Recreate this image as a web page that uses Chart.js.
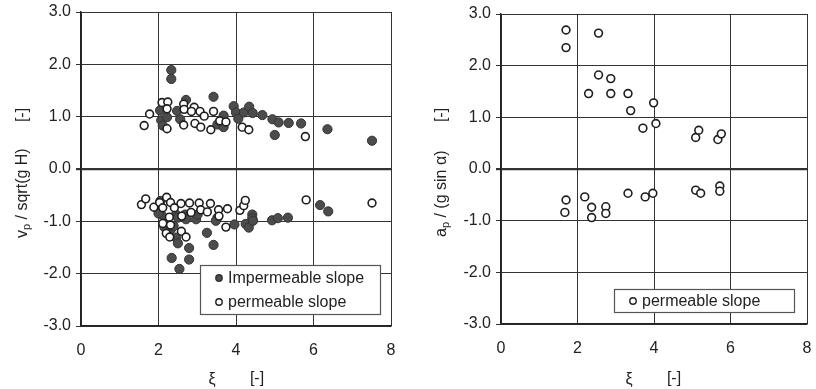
<!DOCTYPE html>
<html>
<head>
<meta charset="utf-8">
<script src="https://cdn.jsdelivr.net/npm/chart.js@4/dist/chart.umd.min.js"></script>
<style>
  html, body { margin: 0; padding: 0; background: #fff; }
  .panel { position: absolute; top: 0; width: 408px; height: 389px; }
</style>
</head>
<body>
<div class="panel" style="left:0"><canvas id="velChart" width="408" height="389"></canvas></div>
<div class="panel" style="left:408px"><canvas id="accChart" width="408" height="389"></canvas></div>
<script>
// ticks
const xTicks = [0, 2, 4, 6, 8];
const yTicks = [-3, -2, -1, 0, 1, 2, 3];

// left panel: impermeable slope (filled)
const impXi = [2.33, 2.33, 2.04, 2.07, 2.11, 2.22, 2.48, 2.71, 2.56, 3.42, 3.68, 3.52, 3.68, 3.94, 4.0, 4.06, 4.2, 4.34, 4.43, 4.68, 4.94, 5.1, 5.36, 5.68, 5.0, 6.36, 7.51,
               2.05, 2.07, 2.0, 2.2, 2.24, 2.15, 2.32, 2.39, 2.45, 2.5, 2.45, 2.5, 2.34, 2.54, 2.79, 2.79, 2.69, 2.71, 2.97, 3.01, 3.25, 3.42, 3.52, 3.48, 3.96, 4.25, 4.33, 4.42, 4.42, 4.44, 4.93, 5.08, 5.34, 6.17, 6.38];
const impV = [1.89, 1.72, 1.12, 0.93, 0.83, 0.99, 1.11, 1.32, 0.95, 1.38, 1.02, 0.85, 0.80, 1.20, 1.08, 0.96, 1.08, 1.19, 1.07, 1.03, 0.95, 0.89, 0.88, 0.87, 0.65, 0.76, 0.54,
              -0.61, -0.87, -0.85, -1.03, -1.12, -1.11, -1.15, -1.09, -0.87, -0.93, -1.31, -1.42, -1.70, -1.91, -1.51, -1.73, -0.87, -0.96, -0.96, -0.87, -1.22, -1.45, -0.93, -0.99, -1.06, -1.05, -1.12, -0.87, -0.94, -0.99, -0.98, -0.94, -0.93, -0.69, -0.81];

// left panel: permeable slope (open)
const permXi = [1.63, 1.77, 2.09, 2.24, 2.22, 2.22, 2.65, 2.66, 2.65, 2.92, 2.85, 3.07, 3.18, 2.94, 3.09, 3.35, 3.42, 3.58, 3.74, 4.16, 4.33, 5.79,
                1.56, 1.67, 1.88, 2.03, 2.11, 2.21, 2.31, 2.11, 2.28, 2.31, 2.2, 2.29, 2.41, 2.58, 2.6, 2.59, 2.71, 2.8, 2.84, 3.05, 3.09, 3.26, 3.34, 3.55, 3.56, 3.78, 3.74, 4.1, 4.2, 4.24, 5.81, 7.51];
const permV = [0.83, 1.05, 1.27, 1.28, 1.15, 0.77, 1.24, 1.14, 0.84, 1.18, 1.10, 1.10, 1.01, 0.87, 0.80, 0.75, 1.10, 0.92, 0.90, 0.80, 0.75, 0.62,
               -0.68, -0.57, -0.73, -0.64, -0.74, -0.54, -0.64, -1.04, -0.92, -1.07, -1.23, -1.30, -0.74, -0.66, -0.90, -1.19, -1.30, -0.65, -0.83, -0.65, -0.78, -0.82, -0.66, -0.78, -0.90, -0.76, -1.11, -0.79, -0.70, -0.60, -0.59, -0.65];

// right panel: permeable slope acceleration
const accXi = [1.70, 1.70, 2.55, 2.55, 2.87, 2.29, 2.87, 3.32, 3.39, 3.99, 3.71, 4.05, 5.09, 5.17, 5.67, 5.76,
               1.70, 1.67, 2.19, 2.37, 2.37, 2.74, 2.74, 3.32, 3.77, 3.97, 5.09, 5.22, 5.72, 5.72];
const accA = [2.69, 2.35, 2.63, 1.82, 1.75, 1.46, 1.46, 1.46, 1.13, 1.28, 0.79, 0.88, 0.61, 0.75, 0.57, 0.68,
              -0.60, -0.84, -0.54, -0.74, -0.94, -0.73, -0.86, -0.47, -0.54, -0.47, -0.41, -0.47, -0.33, -0.43];

const FONT = '"Liberation Sans", Arial, sans-serif';
const pts = (xs, ys) => xs.map((x, i) => ({ x: x, y: ys[i] }));

const filledStyle = { pointRadius: 4.6, backgroundColor: '#4c4c4c', borderColor: '#333', borderWidth: 1 };
const openStyle = { pointRadius: 3.9, backgroundColor: '#ffffff', borderColor: '#1e1e1e', borderWidth: 1.6 };

// titles + legend box drawn on the canvas
const decor = {
    id: 'decor',
    afterDraw(chart, args, o) {
        const ctx = chart.ctx;
        ctx.save();
        ctx.fillStyle = '#222';
        // y title, rotated, with subscript
        ctx.translate(o.yTitleX, o.yTitleY);
        ctx.rotate(-Math.PI / 2);
        ctx.textBaseline = 'middle';
        ctx.textAlign = 'left';
        ctx.font = '16px ' + FONT;
        ctx.fillText(o.yMain, 0, 0);
        let w = ctx.measureText(o.yMain).width;
        ctx.font = '11px ' + FONT;
        ctx.fillText('p', w, 4);
        w += ctx.measureText('p').width;
        ctx.font = '16px ' + FONT;
        ctx.fillText(o.yRest, w, 0);
        ctx.restore();

        ctx.save();
        ctx.fillStyle = '#222';
        ctx.font = '16px ' + FONT;
        ctx.textAlign = 'center';
        ctx.textBaseline = 'middle';
        ctx.translate(o.yTitleX, 115);
        ctx.rotate(-Math.PI / 2);
        ctx.fillText('[-]', 0, 0);
        ctx.restore();

        // x title
        ctx.save();
        ctx.fillStyle = '#222';
        ctx.font = '16px ' + FONT;
        ctx.textAlign = 'center';
        ctx.textBaseline = 'middle';
        ctx.fillText('ξ', o.xiX, 380);
        ctx.fillText('[-]', o.xiX + 45, 379);
        ctx.restore();

        // legend
        const L = o.legend;
        ctx.save();
        ctx.fillStyle = '#fff';
        ctx.fillRect(L.x, L.y, L.w, L.h);
        ctx.strokeStyle = '#555';
        ctx.lineWidth = 1.2;
        ctx.strokeRect(L.x + 0.5, L.y + 0.5, L.w, L.h);
        ctx.font = '16px ' + FONT;
        ctx.textBaseline = 'middle';
        ctx.textAlign = 'left';
        L.items.forEach((it, i) => {
            const ds = chart.data.datasets[it.ds];
            const cy = L.y + L.row0 + i * 24;
            ctx.beginPath();
            ctx.arc(L.x + 19, cy, 3.2, 0, Math.PI * 2);
            ctx.fillStyle = ds.backgroundColor;
            ctx.fill();
            ctx.strokeStyle = ds.borderColor;
            ctx.lineWidth = 1.4;
            ctx.stroke();
            ctx.fillStyle = '#222';
            ctx.fillText(ds.label, L.x + 28, cy + 1);
        });
        ctx.restore();
    }
};

function makeScales(yWidth, xHeight) {
    return {
        x: {
            type: 'linear',
            min: xTicks[0],
            max: xTicks[xTicks.length - 1],
            afterBuildTicks: s => { s.ticks = xTicks.map(v => ({ value: v })); },
            afterFit: s => { s.height = xHeight; },
            border: { color: '#222', width: 1.4 },
            // invisible tick marks push labels down without extra side padding
            grid: { color: '#333', lineWidth: 1, drawTicks: true, tickLength: 15, tickColor: 'rgba(0,0,0,0)' },
            ticks: { color: '#222', font: { family: FONT, size: 16 }, padding: 0 }
        },
        y: {
            type: 'linear',
            min: yTicks[0],
            max: yTicks[yTicks.length - 1],
            afterBuildTicks: s => { s.ticks = yTicks.map(v => ({ value: v })); },
            afterFit: s => { s.width = yWidth; },
            border: { color: '#222', width: 1.4 },
            grid: {
                color: '#333',
                lineWidth: c => (c.tick && c.tick.value === 0 ? 2.2 : 1),
                tickLength: 5
            },
            ticks: { color: '#222', font: { family: FONT, size: 16, lineHeight: 0.8 }, padding: 5, callback: v => v.toFixed(1) }
        }
    };
}

new Chart(document.getElementById('velChart').getContext('2d'), {
    type: 'scatter',
    data: {
        datasets: [
            Object.assign({ label: 'Impermeable slope', data: pts(impXi, impV), order: 1 }, filledStyle),
            Object.assign({ label: 'permeable slope', data: pts(permXi, permV), order: 0 }, openStyle)
        ]
    },
    options: {
        responsive: false,
        animation: false,
        layout: { padding: { left: 0, right: 17, top: 12, bottom: 0 } },
        scales: makeScales(81, 63),
        plugins: {
            legend: { display: false },
            tooltip: { enabled: false },
            decor: {
                yTitleX: 23, yTitleY: 238, yMain: 'v', yRest: ' / sqrt(g H)', xiX: 212,
                legend: { x: 200, y: 265, w: 180, h: 49, row0: 13, items: [{ ds: 0 }, { ds: 1 }] }
            }
        }
    },
    plugins: [decor]
});

new Chart(document.getElementById('accChart').getContext('2d'), {
    type: 'scatter',
    data: {
        datasets: [
            Object.assign({ label: 'permeable slope', data: pts(accXi, accA) }, openStyle)
        ]
    },
    options: {
        responsive: false,
        animation: false,
        layout: { padding: { left: 0, right: 9, top: 14, bottom: 0 } },
        scales: makeScales(93, 65),
        plugins: {
            legend: { display: false },
            tooltip: { enabled: false },
            decor: {
                yTitleX: 34, yTitleY: 237, yMain: 'a', yRest: ' / (g sin α)', xiX: 221,
                legend: { x: 206, y: 289, w: 180, h: 23, row0: 12, items: [{ ds: 0 }] }
            }
        }
    },
    plugins: [decor]
});
</script>
</body>
</html>
